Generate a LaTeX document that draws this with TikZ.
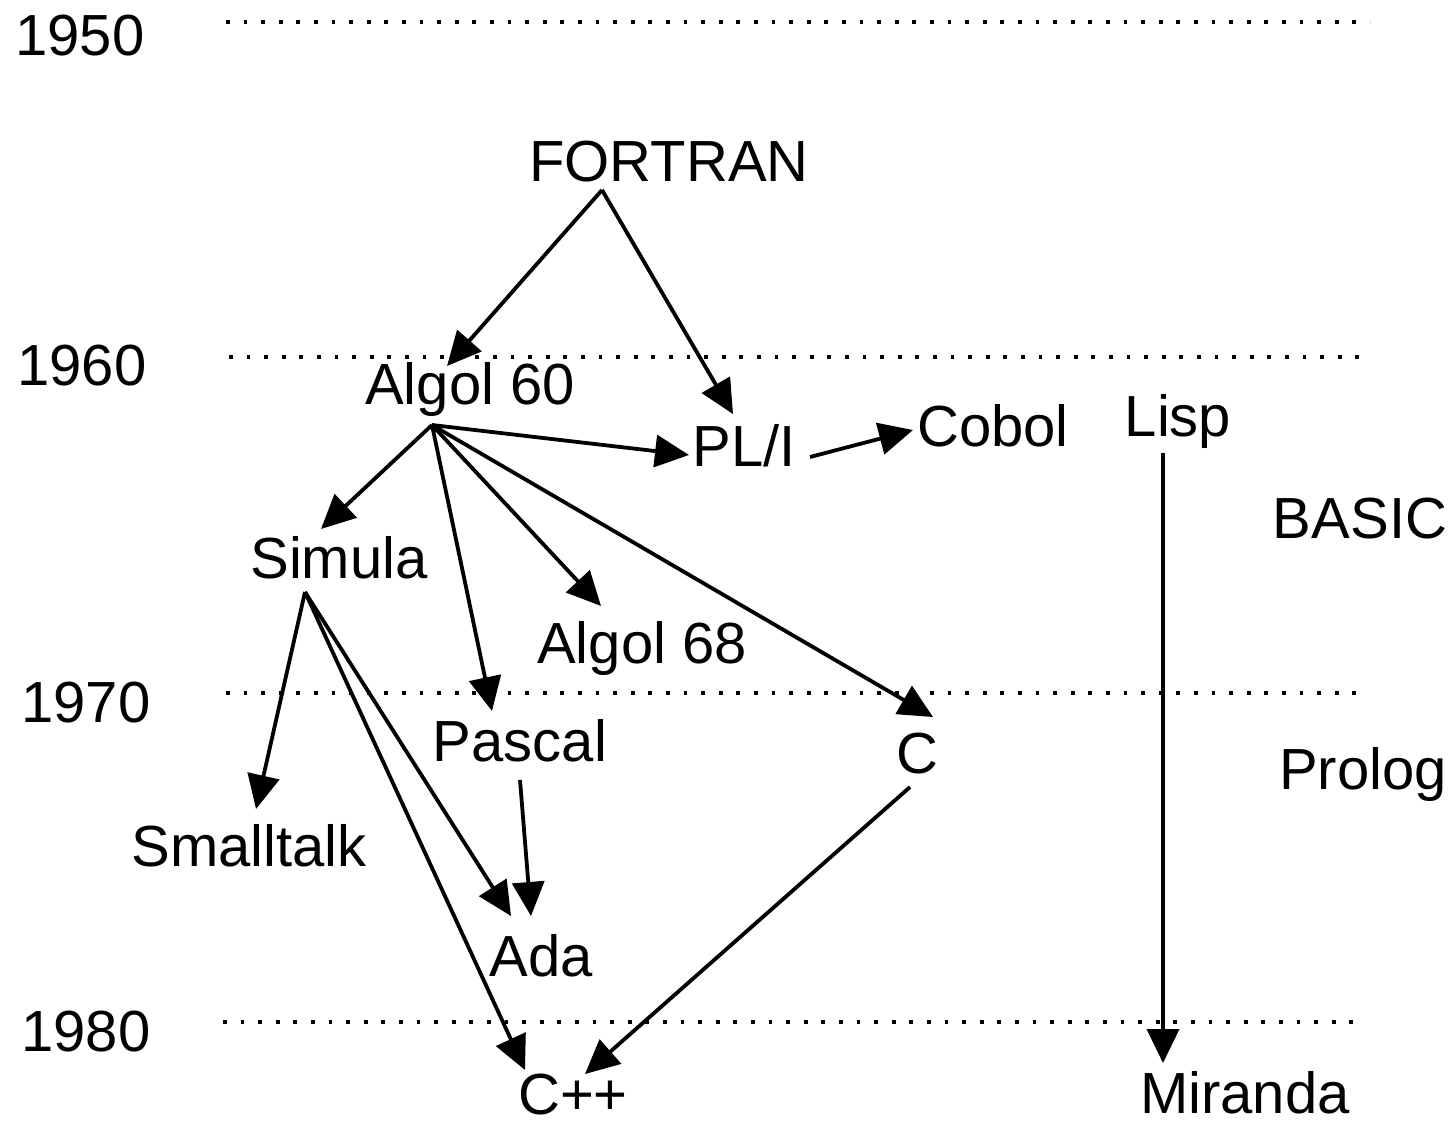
\documentclass[tikz,border=0pt]{standalone}
\usepackage{fontspec}
\setmainfont{Liberation Sans}
\usetikzlibrary{arrows.meta}
\begin{document}
\begin{tikzpicture}[x=0.5pt,y=-0.5pt,
  lbl/.style={font=\fontsize{29}{32}\selectfont, inner sep=0pt, anchor=center},
  yr/.style={lbl},
  era/.style={line width=1.9pt, dash pattern=on 1.9pt off 6.9pt},
  arr/.style={line width=1.9pt, -{Triangle[length=17pt,width=16pt]}}]
\useasboundingbox (0,0) rectangle (1455,1126);
\fill[white] (0,0) rectangle (1455,1126);
% years
\node[yr] (y50) at (80,36) {1950};
\node[yr] (y60) at (82,366) {1960};
\node[yr] (y70) at (86,703) {1970};
\node[yr] (y80) at (86,1032) {1980};
% dotted era lines
\coordinate (l50a) at (226,22);  \coordinate (l50b) at (1370,22);
\coordinate (l60a) at (229,357); \coordinate (l60b) at (1372,357);
\coordinate (l70a) at (226,693); \coordinate (l70b) at (1368,693);
\coordinate (l80a) at (223,1022);\coordinate (l80b) at (1366,1022);
\draw[era] (l50a) -- (l50b);
\draw[era] (l60a) -- (l60b);
\draw[era] (l70a) -- (l70b);
\draw[era] (l80a) -- (l80b);
% languages
\node[lbl] (fortran) at (669,162) {FORTRAN};
\node[lbl] (algol60) at (470,389) {Algol 60};
\node[lbl] (pli) at (744,446) {PL/I};
\node[lbl] (cobol) at (993,426) {Cobol};
\node[lbl] (lisp) at (1178,421) {Lisp};
\node[lbl] (basic) at (1360,519) {BASIC};
\node[lbl] (simula) at (339,558) {Simula};
\node[lbl] (algol68) at (642,648) {Algol 68};
\node[lbl] (pascal) at (520,741) {Pascal};
\node[lbl] (c) at (917,754) {C};
\node[lbl] (prolog) at (1363,774) {Prolog};
\node[lbl] (smalltalk) at (249,846) {Smalltalk};
\node[lbl] (ada) at (541,956) {Ada};
\node[lbl] (cpp) at (573,1095) {C++};
\node[lbl] (miranda) at (1245,1093) {Miranda};
% ports
\coordinate (fortran-o) at (602,190);
\coordinate (algol60-o) at (432,425);
\coordinate (algol60-i) at (447,366);
\coordinate (pli-i1) at (733,414);
\coordinate (pli-i2) at (689,455);
\coordinate (pli-o) at (810,457);
\coordinate (cobol-i) at (913,430);
\coordinate (lisp-o) at (1163,453);
\coordinate (miranda-i) at (1163,1063);
\coordinate (simula-i) at (321,529);
\coordinate (simula-o) at (305,592);
\coordinate (algol68-i) at (601,606);
\coordinate (pascal-i) at (492,711);
\coordinate (pascal-o) at (520,780);
\coordinate (c-i) at (933,717);
\coordinate (c-o) at (910,787);
\coordinate (smalltalk-i) at (256,809);
\coordinate (ada-i1) at (511,916);
\coordinate (ada-i2) at (531,916);
\coordinate (cpp-i1) at (525,1070);
\coordinate (cpp-i2) at (585,1074);
% connectors
\draw[arr] (fortran-o) -- (algol60-i);
\draw[arr] (fortran-o) -- (pli-i1);
\draw[arr] (algol60-o) -- (simula-i);
\draw[arr] (algol60-o) -- (pli-i2);
\draw[arr] (algol60-o) -- (pascal-i);
\draw[arr] (algol60-o) -- (algol68-i);
\draw[arr] (algol60-o) -- (c-i);
\draw[arr] (pli-o) -- (cobol-i);
\draw[arr] (lisp-o) -- (miranda-i);
\draw[arr] (simula-o) -- (smalltalk-i);
\draw[arr] (simula-o) -- (ada-i1);
\draw[arr] (simula-o) -- (cpp-i1);
\draw[arr] (pascal-o) -- (ada-i2);
\draw[arr] (c-o) -- (cpp-i2);
\end{tikzpicture}
\end{document}
